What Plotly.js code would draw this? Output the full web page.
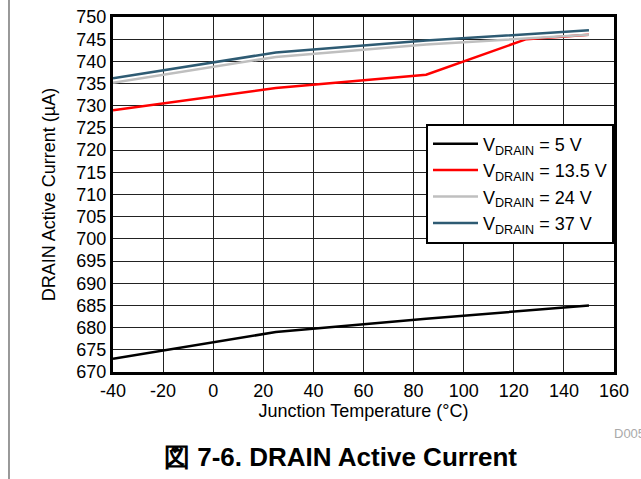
<!DOCTYPE html>
<html><head><meta charset="utf-8">
<script src="https://cdn.plot.ly/plotly-3.0.1.min.js"></script>
<style>html,body{margin:0;padding:0;background:#fff}#c{width:641px;height:479px}</style>
</head><body><div id="c"></div>
<script>
const temps5 = [-40, 25, 85, 150];
const v5 = [673, 679, 682, 685];
const temps135 = [-40, 25, 85, 125, 150];
const v135 = [729, 734, 737, 745, 746];
const temps24 = [-40, 25, 85, 150];
const v24 = [735.2, 741, 743.8, 746];
const temps37 = [-40, 25, 85, 150];
const v37 = [736.2, 742, 744.7, 747];
const xTickVals = [-40, -20, 0, 20, 40, 60, 80, 100, 120, 140, 160];
const xTickText = ['-40', '-20', '0', '20', '40', '60', '80', '100', '120', '140', '160'];
const names = ['V<sub>DRAIN</sub> = 5 V', 'V<sub>DRAIN</sub> = 13.5 V', 'V<sub>DRAIN</sub> = 24 V', 'V<sub>DRAIN</sub> = 37 V'];
const colors = ['#000000', '#ff0000', '#bfbfbf', '#2e5b73'];
const xs = [temps5, temps135, temps24, temps37];
const ys = [v5, v135, v24, v37];
const traces = xs.map((x, i) => ({x: x, y: ys[i], type: 'scatter', mode: 'lines', name: names[i],
  line: {color: colors[i], width: 2.5}}));
const F = 'Arial, "Liberation Sans", sans-serif';
const layout = {
  width: 641, height: 479,
  margin: {l: 113, r: 27, t: 17, b: 107},
  paper_bgcolor: '#fff', plot_bgcolor: '#fff',
  font: {family: F, size: 18, color: '#000'},
  showlegend: true,
  legend: {x: 1, xanchor: 'right', y: 0.70, yanchor: 'top', bgcolor: '#fff', bordercolor: '#000', borderwidth: 2,
    font: {family: F, size: 18, color: '#000'}, tracegroupgap: 0, itemwidth: 45},
  xaxis: {range: [-40, 160], tickvals: xTickVals, ticktext: xTickText, showgrid: true, gridcolor: '#222', gridwidth: 1,
    zeroline: false, showline: true, linecolor: '#000', linewidth: 3, mirror: true, ticks: '',
    tickfont: {family: F, size: 18}, title: {text: 'Junction Temperature (°C)', font: {family: F, size: 18}, standoff: 4}},
  yaxis: {range: [670, 750], dtick: 5, tick0: 670, showgrid: true, gridcolor: '#222', gridwidth: 1,
    zeroline: false, showline: true, linecolor: '#000', linewidth: 3, mirror: true, ticks: '',
    tickfont: {family: F, size: 18}, title: {text: 'DRAIN Active Current (µA)', font: {family: F, size: 18}, standoff: 17}},
  shapes: [{type: 'line', xref: 'paper', yref: 'paper', x0: -0.2076, x1: -0.2076, y0: -0.31, y1: 1.06,
    line: {color: '#777', width: 1.5}}],
  annotations: [
    {text: '<b>図 7-6. DRAIN Active Current</b>', xref: 'paper', yref: 'paper', x: 0.455, y: -0.24, xanchor: 'center', yanchor: 'middle',
      showarrow: false, font: {family: F, size: 26, color: '#000'}},
    {text: 'D005', xref: 'paper', yref: 'paper', x: 0.996, y: -0.172, xanchor: 'left', yanchor: 'middle',
      showarrow: false, font: {family: F, size: 13, color: '#aaa'}}
  ]
};
Plotly.newPlot('c', traces, layout, {displayModeBar: false});
</script></body></html>
